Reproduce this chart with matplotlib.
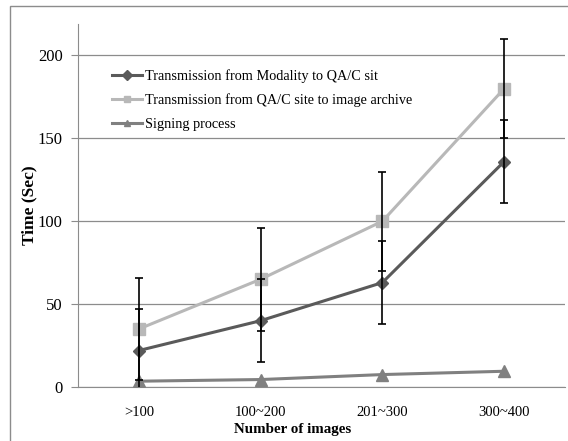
import numpy as np
import matplotlib.pyplot as plt
from matplotlib.patches import Rectangle

plt.rcParams['font.family'] = ['Liberation Serif', 'DejaVu Serif']

categories = ['>100', '100~200', '201~300', '300~400']
modality = [22, 40, 63, 136]
modality_err = [25, 25, 25, 25]
archive = [35, 65, 100, 180]
archive_err = [31, 31, 30, 30]
signing = [3.5, 4.5, 7.5, 9.5]
labels = ['Transmission from Modality to QA/C sit',
          'Transmission from QA/C site to image archive',
          'Signing process']

fig = plt.figure(figsize=(5.68, 4.41), dpi=100)
# outer chart border (only left/top edges fall inside the image)
fig.patches.append(Rectangle((10/568, -0.1), 1.2, 1.1 - 6/441, transform=fig.transFigure,
                             fill=False, edgecolor='#8c8c8c', linewidth=1.0))
ax = fig.add_axes([78/568, 1 - 387/441, 487/568, 363/441])

x = np.arange(len(categories)) + 0.5
ax.plot(x, modality, color='#5a5a5a', lw=2.2, marker='D', ms=6, label=labels[0], zorder=3)
ax.plot(x, archive, color='#b8b8b8', lw=2.2, marker='s', ms=8, label=labels[1], zorder=3)
ax.plot(x, signing, color='#808080', lw=2.2, marker='^', ms=8, label=labels[2], zorder=3)
ax.errorbar(x, modality, yerr=modality_err, fmt='none', ecolor='black', elinewidth=1.2,
            capsize=3, capthick=1.2, zorder=4)
ax.errorbar(x, archive, yerr=archive_err, fmt='none', ecolor='black', elinewidth=1.2,
            capsize=3, capthick=1.2, zorder=4)

ax.set_xlim(0, len(categories))
ax.set_ylim(0, 219)
ax.set_yticks([0, 50, 100, 150, 200])
ax.set_xticks(x)
ax.set_xticklabels(categories)
ax.yaxis.grid(True, color='#8c8c8c', lw=0.9)
ax.set_axisbelow(True)
for s in ['top', 'right']:
    ax.spines[s].set_visible(False)
ax.spines['left'].set_color('#8c8c8c')
ax.spines['bottom'].set_color('#8c8c8c')
ax.tick_params(axis='y', length=5, color='#8c8c8c', labelcolor='black', labelsize=12, pad=6)
ax.tick_params(axis='x', length=0, labelcolor='black', labelsize=10.5, pad=14)

ax.set_ylabel('Time (Sec)', fontsize=12.5, fontweight='bold', labelpad=0)
ax.set_xlabel('Number of images', fontsize=10.8, fontweight='bold', labelpad=0)
ax.xaxis.set_label_coords((293 - 78) / 487, -0.1)

leg = ax.legend(loc='upper left', bbox_to_anchor=(0.069, 0.876), frameon=False, fontsize=10.3,
                handlelength=2.15, handletextpad=0.15, labelspacing=0.75, borderpad=0,
                borderaxespad=0)
for h in leg.legend_handles:
    h.set_markersize(5)

fig.savefig('out.png', dpi=100)
